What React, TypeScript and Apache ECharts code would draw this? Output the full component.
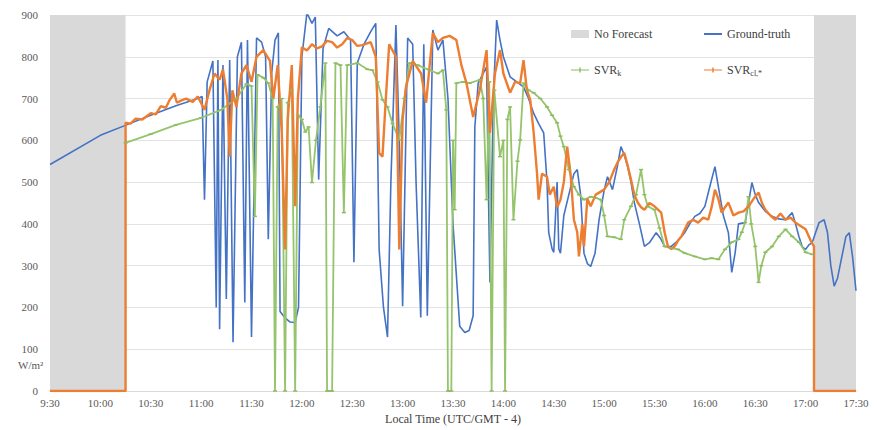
import React, { useEffect, useRef } from "react";
import * as echarts from "echarts";

// minutes since midnight
const gtTimes = [570, 600, 615.6, 630, 645, 658, 660.6, 662, 663.6, 667, 669, 670, 671, 673, 675, 677, 679, 681.6, 684, 686, 687.6, 690, 693, 696, 698.4, 700, 702, 704, 706, 707, 710, 713, 716, 718, 720, 723, 726, 728, 730, 732.6, 736, 741, 745, 749, 751, 753, 757, 761, 764, 766, 768.6, 771, 773, 776, 778, 780, 783, 786, 788, 790.8, 792.6, 794.7, 798, 801, 804, 807, 810, 814, 817, 819.6, 822, 823, 825, 828, 830, 831, 832, 834, 836, 838, 840, 844, 848, 852, 855, 858, 861, 864, 866, 867, 869, 870, 872, 873, 874, 876, 879, 882, 884, 886, 888, 890, 892, 894.6, 897, 900, 902, 905, 908, 910, 912, 914, 916, 918, 921, 924, 927, 931, 933.6, 936, 940, 944, 948, 951, 954, 957, 960, 963, 966, 968.4, 971, 974, 976, 978, 980, 984, 986.4, 988, 990, 992, 996, 1000, 1004, 1008, 1012, 1014, 1016, 1018, 1020, 1022, 1024, 1026, 1028, 1031, 1033, 1035, 1037, 1039, 1042, 1044, 1046, 1048, 1050];
const gtValues = [542, 612, 637, 660, 683, 700, 705, 458, 740, 790, 200, 792, 148, 780, 220, 792, 117, 800, 835, 212, 840, 129, 845, 835, 800, 363, 760, 840, 857, 190, 175, 165, 164, 200, 800, 905, 880, 895, 506, 820, 868, 850, 860, 840, 308, 785, 830, 860, 880, 339, 200, 129, 500, 876, 600, 203, 845, 830, 500, 176, 830, 180, 864, 816, 840, 700, 400, 155, 140, 145, 180, 632, 737, 760, 776, 500, 260, 700, 888, 840, 800, 752, 740, 728, 700, 665, 640, 618, 500, 379, 340, 332, 500, 340, 330, 420, 470, 520, 530, 470, 330, 305, 298, 330, 410, 480, 513, 482, 540, 585, 565, 537, 500, 451, 400, 346, 355, 379, 365, 346, 346, 360, 379, 400, 418, 425, 442, 490, 537, 480, 420, 379, 284, 330, 400, 403, 460, 499, 470, 451, 430, 418, 412, 410, 427, 400, 370, 345, 339, 350, 356, 380, 403, 410, 380, 300, 251, 270, 330, 370, 379, 320, 240];

const svrkTimes = [615, 630, 645, 660, 672, 681, 687, 690, 692, 693.6, 697, 700, 702.6, 704, 705.6, 708, 710, 711.6, 714, 716, 717.6, 720, 722, 724, 726, 728.4, 731, 734, 735, 738, 740, 743, 745, 747, 753, 759, 762, 765, 768, 771, 774, 778, 781, 784, 789, 796, 801, 804, 806, 807, 809, 810, 811, 812, 816, 820, 826, 828, 830, 831.6, 833, 834.6, 838, 840, 841, 842.4, 844, 846, 848.4, 850, 852, 855, 858, 862, 866, 869, 872, 874, 876, 879, 882, 885, 888, 892, 895, 898, 900, 902, 906, 910, 912, 916, 919, 922, 924, 926, 930, 933, 936, 940, 944, 948, 954, 960, 964, 968, 972, 976, 980, 982, 984, 986, 987.6, 990, 992, 993.6, 996, 1000, 1004, 1008, 1012, 1016, 1020, 1024];
const svrkValues = [594, 615, 637, 654, 673, 700, 735, 730, 418, 757, 750, 737, 700, 0, 680, 700, 0, 690, 720, 0, 660, 650, 620, 632, 499, 600, 680, 785, 0, 0, 785, 780, 427, 780, 785, 770, 768, 740, 697, 680, 640, 601, 700, 785, 780, 768, 760, 768, 673, 0, 0, 600, 434, 737, 740, 737, 745, 700, 458, 740, 0, 720, 561, 600, 0, 650, 680, 410, 550, 601, 737, 720, 714, 700, 680, 660, 642, 610, 585, 530, 489, 470, 458, 465, 462, 458, 420, 370, 368, 363, 410, 442, 470, 530, 470, 442, 434, 390, 346, 342, 339, 330, 322, 315, 318, 315, 339, 356, 363, 380, 403, 465, 400, 346, 260, 300, 332, 346, 370, 387, 370, 356, 332, 327];

const svrclTimes = [570, 615, 615, 618, 621, 625, 630, 633, 636, 639, 641, 644, 645.6, 648, 651, 655, 658, 662, 665, 668, 671, 673, 675.6, 677, 678.6, 681, 684, 687, 690, 693, 697, 701, 703, 705.6, 708, 710, 711.6, 714, 716, 717.6, 720, 723, 726, 729, 732, 735, 738, 741, 744, 747, 750, 753, 756, 761, 764, 766, 768, 770, 772, 776, 778, 780, 782, 786, 791, 794, 796, 798, 801, 804, 808, 812, 815, 818, 822, 826, 830, 832, 835, 838, 840, 844, 847, 850, 852, 854, 856, 858, 860, 861, 863, 866, 867.6, 870, 872, 874, 876, 878, 880, 882, 884, 885, 887, 888, 890, 892, 895, 900, 903, 906, 908, 910, 912, 914, 916, 918, 920, 922, 924, 927, 930, 934, 936, 938, 940, 942, 944, 946, 950, 953, 956, 959, 962, 964, 966, 968, 970, 972, 974, 977, 980, 983, 986, 989, 992, 994, 996, 999, 1002, 1005, 1008, 1011, 1014, 1017, 1020, 1023, 1025, 1025, 1050];
const svrclValues = [0, 0, 642, 640, 652, 650, 665, 662, 682, 678, 695, 712, 690, 695, 700, 692, 705, 673, 720, 760, 745, 770, 700, 561, 720, 680, 760, 780, 740, 800, 816, 790, 700, 780, 620, 339, 650, 780, 442, 700, 823, 815, 830, 820, 825, 838, 835, 822, 830, 845, 840, 826, 828, 835, 800, 570, 561, 700, 830, 800, 339, 650, 728, 790, 760, 690, 776, 857, 835, 845, 850, 840, 780, 737, 656, 721, 816, 618, 760, 816, 760, 714, 740, 737, 792, 720, 697, 620, 523, 458, 520, 513, 470, 489, 440, 458, 500, 585, 520, 410, 380, 322, 400, 346, 460, 442, 470, 482, 500, 530, 547, 560, 570, 540, 506, 470, 451, 440, 434, 450, 442, 427, 380, 346, 340, 346, 360, 370, 403, 410, 403, 415, 410, 440, 482, 460, 427, 440, 451, 420, 427, 430, 442, 460, 475, 450, 434, 420, 410, 425, 410, 415, 403, 395, 387, 360, 346, 0, 0];

const noForecastRanges = [[570, 615], [1025, 1050]];
const yTicks = { min: 0, max: 900, interval: 100 };
const xTicks = { min: 570, max: 1050, interval: 30 };

const pairs = (t: number[], v: number[]) => t.map((x, i) => [x, v[i]]);
const fmtTime = (m: number) => `${Math.floor(m / 60)}:${String(Math.round(m % 60)).padStart(2, "0")}`;

const FONT = "Liberation Serif";
const markerIcon = "path://M0,3.4H18V4.6H0Z M8.3,1.5H9.7V6.5H8.3Z";

export default function App() {
  const ref = useRef<HTMLDivElement>(null);
  useEffect(() => {
    const chart = echarts.init(ref.current!, null, { renderer: "svg" });
    const legendBase = {
      itemWidth: 18,
      itemHeight: 8,
      itemGap: 4,
      textStyle: {
        fontFamily: FONT,
        fontSize: 12,
        color: "#404040",
        rich: {
          b: { fontFamily: FONT, fontSize: 12, color: "#404040" },
          s: { fontFamily: FONT, fontSize: 8, color: "#404040", verticalAlign: "bottom", padding: [6, 0, 0, 0] },
        },
      },
      formatter: (n: string) => {
        if (n === "SVR_k") return "{b|SVR}{s|k}";
        if (n === "SVR_cl") return "{b|SVR}{s|cl,*}";
        return n;
      },
    };
    chart.setOption({
      animation: false,
      textStyle: { fontFamily: FONT },
      grid: { left: 50, right: 21, top: 15, bottom: 38 },
      legend: [
        { ...legendBase, data: [{ name: "No Forecast", icon: "rect" }], left: 566, top: 23 },
        { ...legendBase, itemHeight: 2, data: [{ name: "Ground-truth", icon: "rect" }], left: 699, top: 23 },
        { ...legendBase, data: [{ name: "SVR_k", icon: markerIcon }], left: 566, top: 59 },
        { ...legendBase, data: [{ name: "SVR_cl", icon: markerIcon }], left: 699, top: 59 },
      ],
      xAxis: {
        type: "value",
        min: xTicks.min,
        max: xTicks.max,
        interval: xTicks.interval,
        name: "Local Time (UTC/GMT - 4)",
        nameLocation: "middle",
        nameGap: 22,
        nameTextStyle: { fontFamily: FONT, fontSize: 12, color: "#404040" },
        axisLine: { lineStyle: { color: "#d9d9d9" } },
        axisTick: { show: false },
        splitLine: { show: false },
        axisLabel: { formatter: fmtTime, fontFamily: FONT, fontSize: 11, color: "#595959", margin: 6 },
      },
      yAxis: {
        type: "value",
        min: yTicks.min,
        max: yTicks.max,
        interval: yTicks.interval,
        axisLine: { show: false },
        axisTick: { show: false },
        splitLine: { lineStyle: { color: "#e3e3e3" } },
        axisLabel: { fontFamily: FONT, fontSize: 11, color: "#595959", margin: 12 },
      },
      graphic: [
        { type: "text", left: 18, top: 359, style: { text: "W/m²", font: `11px ${FONT}`, fill: "#595959" } },
      ],
      series: [
        {
          name: "No Forecast",
          type: "line",
          data: [],
          itemStyle: { color: "#d9d9d9" },
          markArea: {
            silent: true,
            itemStyle: { color: "#d9d9d9" },
            data: noForecastRanges.map(([a, b]) => [{ xAxis: a, yAxis: yTicks.max }, { xAxis: b, yAxis: yTicks.min }]),
          },
        },
        {
          name: "Ground-truth",
          type: "line",
          data: pairs(gtTimes, gtValues),
          symbol: "none",
          lineStyle: { color: "#4472c4", width: 1.6 },
          itemStyle: { color: "#4472c4" },
        },
        {
          name: "SVR_k",
          type: "line",
          data: pairs(svrkTimes, svrkValues),
          symbol: "rect",
          symbolSize: [4, 1.5],
          lineStyle: { color: "#95c46c", width: 1.8 },
          itemStyle: { color: "#8cbc62" },
        },
        {
          name: "SVR_cl",
          type: "line",
          data: pairs(svrclTimes, svrclValues),
          symbol: "none",
          lineStyle: { color: "#ed7d31", width: 2.4 },
          itemStyle: { color: "#ed7d31" },
        },
      ],
    });
    return () => chart.dispose();
  }, []);
  return <div ref={ref} style={{ position: "fixed", left: 0, top: 0, width: 877, height: 430, background: "#fff" }} />;
}
